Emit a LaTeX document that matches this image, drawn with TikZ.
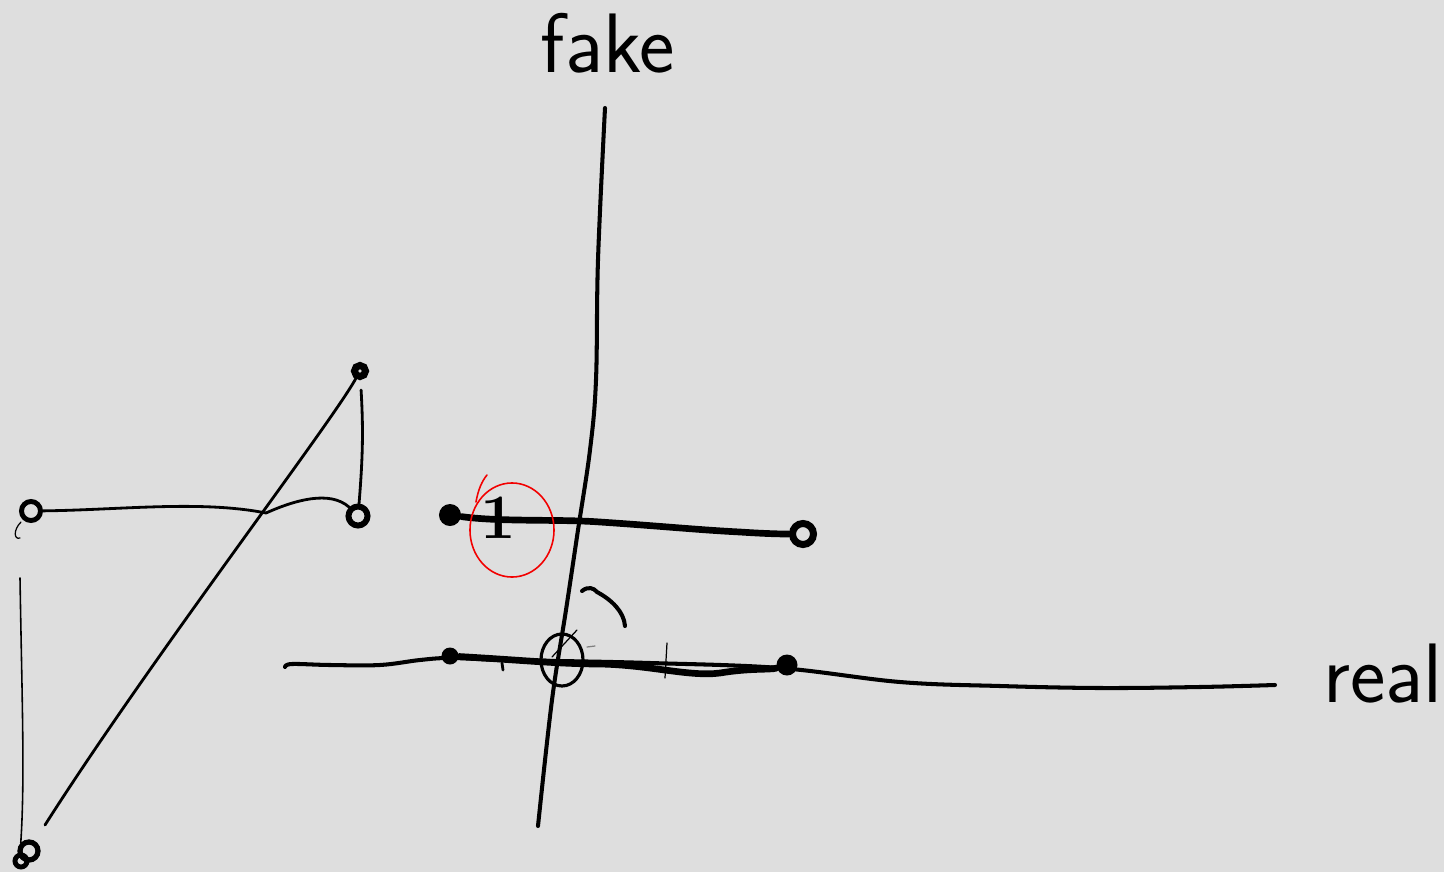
\documentclass[tikz,border=0pt]{standalone}
\usepackage{tikz}
\usetikzlibrary{positioning}
\usetikzlibrary{calc}

\definecolor{paper}{HTML}{DEDEDE}
\definecolor{inkred}{HTML}{F20000}

\tikzset{
	pen/.style={line width=1.15pt, line cap=round, line join=round},
	heavy/.style={line width=1.9pt, line cap=round, line join=round},
	fine/.style={line width=0.8pt, line cap=round},
	hair/.style={line width=0.35pt, line cap=round},
	redpen/.style={inkred, line width=0.45pt, line cap=round},
	ring/.style={circle, draw, line width=1.4pt, inner sep=0pt, minimum size=0.19cm},
	blob/.style={circle, fill, inner sep=0pt, minimum size=0.18cm},
	scrawl/.style={font=\fontsize{24}{28}\selectfont\sffamily, inner sep=0pt},
}

\begin{document}
\begin{tikzpicture}[x=0.01cm, y=-0.01cm]

	% ------------------------------------------------
	% Sheet
	\useasboundingbox (0,0) rectangle (1444,872);
	\fill[paper] (0,0) rectangle (1444,872);

	% ------------------------------------------------
	% Relevant coordinates
	\coordinate (FakeTop) at (605,108);
	\coordinate (FakeBot) at (538,826);
	\coordinate (RealBeg) at (285,667);
	\coordinate (RealEnd) at (1275,685);
	\coordinate (Origin)  at (562,660);

	\coordinate (LeftDrop) at (20,578);
	\coordinate (DiagEnd)  at (45,825);

	% ----------------
	% Axis labels
	\node[scrawl, anchor=base] (FakeLabel) at (608,72)  {fake};
	\node[scrawl, anchor=base] (RealLabel) at (1383,702) {real};

	% ----------------
	% Dotted vertices
	\node[blob, minimum size=0.22cm] (EndA) at (450,515) {};
	\node[ring, line width=2pt, minimum size=0.21cm] (EndB) at (803,534) {};
	\node[blob, minimum size=0.17cm] (EndC) at (450,656) {};
	\node[blob, minimum size=0.21cm] (EndD) at (787,665) {};

	\node[ring] (LeftDot) at (31,511) {};
	\node[ring, line width=1.7pt] (KneeDot) at (358,516) {};
	\node[ring, line width=2pt, minimum size=0.11cm] (TopDot) at (360,371) {};
	\node[ring, line width=1.5pt, minimum size=0.18cm] (FootDot) at (29,851) {};

	%%%%%%%%%%%%%%%%%%%%%%%%%%%%%%%%%%%%%%%%%
	%Axes
	\draw[pen] plot[smooth, tension=0.6] coordinates {(FakeTop) (598,260) (596,380) (590,450) (578,530) (566,610) (552,700) (FakeBot)};

	\draw[pen] plot[smooth, tension=0.6] coordinates {(RealBeg) (292,664) (330,665) (380,665) (420,660) (450,658) (500,660) (560,661) (650,663) (780,668) (900,682) (1000,686) (1100,688) (1200,687) (RealEnd)};

	% ----------------
	% Segments on the axes
	\draw[heavy] (EndA) .. controls (500,522) and (560,519) .. (600,522)
		.. controls (660,526) and (700,530) .. (740,532)
		.. controls (770,534) and (785,534) .. (EndB);

	\draw[heavy] (EndC) .. controls (520,660) and (560,664) .. (600,664)
		.. controls (650,665) and (690,677) .. (720,673)
		.. controls (750,668) and (770,670) .. (EndD);

	% ----------------
	% Marks round the origin
	\draw[pen, line width=0.9pt] (Origin) ellipse [x radius=0.21cm, y radius=0.26cm];
	\draw[hair] (552,657) -- (577,630);
	\draw[hair, gray] (587,647) -- (595,646);
	\draw[hair] (667,643) -- (665,678);
	\draw[fine] (502,663) -- (503,670);
	\draw[pen] (582,591) .. controls (588,586) and (594,588) .. (597,592)
		.. controls (612,600) and (624,612) .. (625,626);

	% ----------------
	% The circled one
	\node[font=\fontsize{18}{20}\selectfont\bfseries] (One) at (498,518) {1};
	\draw[redpen] (512,530) ellipse [x radius=0.42cm, y radius=0.47cm];
	\draw[redpen] (476,502) .. controls (478,490) and (482,481) .. (487,475);

	%%%%%%%%%%%%%%%%%%%%%%%%%%%%%%%%%%%%%%%%%
	%Triangle on the left
	\draw[fine] (LeftDot) .. controls (120,510) and (200,500) .. (266,513)
		.. controls (295,500) and (330,490) .. (KneeDot.north west);
	\draw[fine, shorten <=0.1cm] (TopDot) to[bend left=4] (KneeDot);
	\draw[fine] (TopDot) .. controls (330,425) and (150,660) .. (DiagEnd);
	\draw[hair, line width=0.45pt] (LeftDrop) .. controls (22,700) and (25,780) .. (FootDot.north west);
	\draw[hair] (21,522) .. controls (13,530) and (14,540) .. (20,538);
	\draw[line width=1.4pt] (21,861) circle [radius=0.06cm];

\end{tikzpicture}
\end{document}
